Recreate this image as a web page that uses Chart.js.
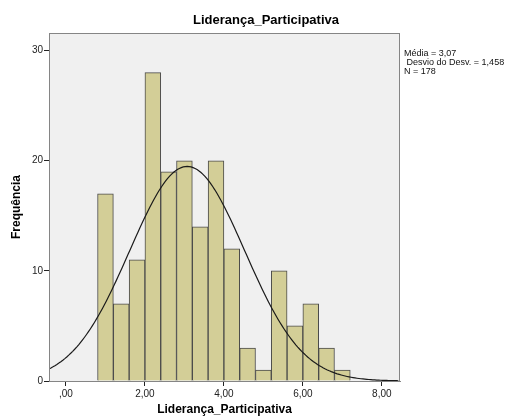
<!DOCTYPE html>
<html>
<head>
<meta charset="utf-8">
<script src="https://cdn.jsdelivr.net/npm/chart.js@4/dist/chart.umd.min.js"></script>
<style>
 body{margin:0;background:#fff;}
 #wrap{width:510px;height:419px;}
</style>
</head>
<body>
<div id="wrap"><canvas id="hist" width="510" height="419"></canvas></div>
<script>
// histogram bins (lower edge of each bin, width 0.4) and counts
const binStarts=[0.8,1.2,1.6,2.0,2.4,2.8,3.2,3.6,4.0,4.4,4.8,5.2,5.6,6.0,6.4,6.8];
const counts=[17,7,11,28,19,20,14,20,12,3,1,10,5,7,3,1];
const binWidth=0.4;

// summary statistics shown beside the plot
const mean=3.07;
const stdDev=1.458;
const total=178;
const statLines=["Média = 3,07"," Desvio do Desv. = 1,458","N = 178"];

const xTicks=[0,2,4,6,8];
const yTicks=[0,10,20,30];
const xMin=-0.43,xMax=8.46;
const yMax=31.6;

// fitted normal curve scaled to counts per bin
const curve=[];
for(let x=xMin;x<=xMax+0.001;x+=0.05){
 const z=(x-mean)/stdDev;
 curve.push({x,y:total*binWidth*Math.exp(-z*z/2)/(stdDev*Math.sqrt(2*Math.PI))});
}

const bars=binStarts.map((s,i)=>({x:s+binWidth/2,y:counts[i]}));

const FONT="'Liberation Sans', Arial, sans-serif";

const frame={
 id:"frame",
 beforeDraw(chart){
  const {ctx,chartArea:a}=chart;
  ctx.save();
  ctx.fillStyle="#f0f0f0";
  ctx.fillRect(a.left,a.top,a.right-a.left,a.bottom-a.top);
  ctx.restore();
 },
 afterDraw(chart){
  const {ctx,chartArea:a}=chart;
  ctx.save();
  ctx.strokeStyle="#858585";
  ctx.lineWidth=1;
  ctx.strokeRect(a.left+0.5,a.top+0.5,a.right-a.left-1,a.bottom-a.top);
  ctx.fillStyle="#000";
  ctx.textBaseline="middle";
  ctx.textAlign="center";
  ctx.font="bold 13px "+FONT;
  ctx.fillText("Liderança_Participativa",266,20);
  ctx.font="bold 12px "+FONT;
  ctx.fillText("Liderança_Participativa",(a.left+a.right)/2,410);
  ctx.translate(17,(a.top+a.bottom)/2);
  ctx.rotate(-Math.PI/2);
  ctx.fillText("Frequência",0,0);
  ctx.restore();
  ctx.save();
  ctx.fillStyle="#111";
  ctx.font="9px "+FONT;
  ctx.textBaseline="middle";
  statLines.forEach((t,i)=>ctx.fillText(t,404,54+i*9));
  ctx.restore();
 }
};

new Chart(document.getElementById("hist"),{
 type:"bar",
 data:{
  datasets:[
   {
    type:"line",
    data:curve,
    borderColor:"#1a1a1a",
    borderWidth:1.2,
    pointRadius:0,
    tension:0,
    order:0
   },
   {
    data:bars,
    backgroundColor:"#d3ce97",
    borderColor:"#4a4a4a",
    borderWidth:1,
    barPercentage:1,
    categoryPercentage:1,
    order:1
   }
  ]
 },
 options:{
  responsive:false,
  animation:false,
  layout:{padding:{top:33,right:110,left:0,bottom:0}},
  plugins:{legend:{display:false},tooltip:{enabled:false}},
  scales:{
   x:{
    type:"linear",
    offset:false,
    min:xMin,
    max:xMax,
    afterFit(s){s.height=38;},
    afterBuildTicks(s){s.ticks=xTicks.map(v=>({value:v}));},
    ticks:{
     font:{family:FONT,size:10},
     color:"#222",
     padding:2,
     callback:v=>v===0?",00":v.toFixed(2).replace(".",",")
    },
    grid:{offset:false,drawOnChartArea:false,drawTicks:true,tickLength:5,color:"#222"},
    border:{display:true,color:"#858585"}
   },
   y:{
    min:0,
    max:yMax,
    afterFit(s){s.width=49;},
    afterBuildTicks(s){s.ticks=yTicks.map(v=>({value:v}));},
    ticks:{font:{family:FONT,size:10},color:"#222",padding:1},
    grid:{drawOnChartArea:false,drawTicks:true,tickLength:5,color:"#222"},
    border:{display:true,color:"#858585"}
   }
  }
 },
 plugins:[frame]
});
</script>
</body>
</html>
